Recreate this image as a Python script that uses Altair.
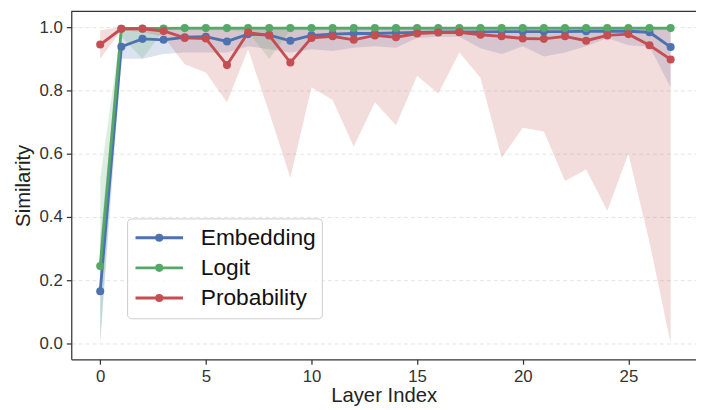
import altair as alt
import pandas as pd

layers = list(range(28))
series_names = ["Embedding", "Logit", "Probability"]
series_colors = ["#4C72B0", "#55A868", "#C44E52"]

emb_mean = [0.165, 0.938, 0.963, 0.960, 0.968, 0.970, 0.955, 0.978, 0.975, 0.957,
            0.974, 0.978, 0.980, 0.980, 0.982, 0.983, 0.985, 0.985, 0.985, 0.986,
            0.986, 0.986, 0.986, 0.987, 0.987, 0.987, 0.984, 0.937]
emb_lo = [0.00, 0.90, 0.90, 0.915, 0.92, 0.92, 0.92, 0.94, 0.93, 0.92,
          0.93, 0.925, 0.935, 0.94, 0.935, 0.966, 0.97, 0.97, 0.933, 0.915,
          0.94, 0.907, 0.92, 0.94, 0.966, 0.943, 0.938, 0.81]
emb_hi = [0.33] + [0.995] * 27

logit_mean = [0.245, 0.995, 0.996, 0.996, 0.997, 0.997, 0.997, 0.997, 0.997, 0.997,
              0.997, 0.997, 0.997, 0.997, 0.997, 0.997, 0.997, 0.997, 0.997, 0.997,
              0.997, 0.997, 0.997, 0.997, 0.997, 0.997, 0.997, 0.997]
logit_lo = [0.01, 0.97, 0.90, 0.99, 0.99, 0.99, 0.99, 0.985, 0.90, 0.99,
            0.99, 0.99, 0.99, 0.99, 0.99, 0.99, 0.99, 0.99, 0.99, 0.99,
            0.99, 0.99, 0.99, 0.99, 0.99, 0.99, 0.99, 0.99]
logit_hi = [0.52] + [1.0] * 27

prob_mean = [0.945, 0.995, 0.995, 0.988, 0.966, 0.964, 0.880, 0.983, 0.974, 0.888,
             0.966, 0.971, 0.960, 0.974, 0.968, 0.980, 0.983, 0.984, 0.976, 0.971,
             0.964, 0.963, 0.971, 0.957, 0.974, 0.978, 0.943, 0.898]
prob_lo = [0.90, 0.99, 0.985, 0.97, 0.883, 0.857, 0.763, 0.93, 0.73, 0.524,
           0.81, 0.77, 0.623, 0.763, 0.69, 0.846, 0.79, 0.92, 0.84, 0.587,
           0.682, 0.67, 0.514, 0.55, 0.42, 0.60, 0.32, 0.0]
prob_hi = [0.99] + [1.0] * 27

x_ticks = [0, 5, 10, 15, 20, 25]
y_ticks = [0.0, 0.2, 0.4, 0.6, 0.8, 1.0]

rows = []
for name, m, lo, hi in [
    ("Embedding", emb_mean, emb_lo, emb_hi),
    ("Logit", logit_mean, logit_lo, logit_hi),
    ("Probability", prob_mean, prob_lo, prob_hi),
]:
    for i, l in enumerate(layers):
        rows.append({"layer": l, "series": name, "mean": m[i], "lo": lo[i], "hi": hi[i]})
df = pd.DataFrame(rows)
legend_df = pd.DataFrame({"series": series_names})

W, H = 632, 352
FONT = "Liberation Sans"
AX = "#333333"
LW = 2.9
PS = 66

def cscale():
    return alt.Scale(domain=series_names, range=series_colors)

x_enc = alt.X(
    "layer:Q",
    scale=alt.Scale(domain=[-1.37, 28.2], nice=False, zero=False),
    axis=alt.Axis(values=x_ticks, title="Layer Index", grid=False, tickSize=5,
                  tickColor=AX, tickWidth=1.25, domainColor=AX, domainWidth=1.25,
                  labelFontSize=17, titleFontSize=20.5, labelColor=AX,
                  titleColor="#222222", labelPadding=4, titlePadding=2,
                  labelFont=FONT, titleFont=FONT, titleFontWeight="normal"),
)
y_axis = alt.Axis(values=y_ticks, format=".1f", title="Similarity", grid=True,
                  gridDash=[4, 3], gridColor="#dddddd", gridWidth=0.8, tickSize=5,
                  tickColor=AX, tickWidth=1.25, domainColor=AX, domainWidth=1.25,
                  labelFontSize=17, titleFontSize=20.5, labelColor=AX,
                  titleColor="#222222", labelPadding=4, titlePadding=6,
                  labelFont=FONT, titleFont=FONT, titleFontWeight="normal")
y_scale = alt.Scale(domain=[-0.05, 1.05], nice=False, zero=False)

base = alt.Chart(df)

band = base.mark_area(opacity=0.2).encode(
    x=x_enc,
    y=alt.Y("lo:Q", scale=y_scale, axis=y_axis),
    y2="hi:Q",
    color=alt.Color("series:N", scale=cscale(), legend=None),
)

line = base.mark_line(strokeWidth=LW).encode(
    x=x_enc,
    y=alt.Y("mean:Q", scale=y_scale, axis=y_axis),
    color=alt.Color("series:N", scale=cscale(), legend=None),
)

pts = base.mark_circle(size=PS, opacity=1).encode(
    x=x_enc,
    y=alt.Y("mean:Q", scale=y_scale, axis=y_axis),
    color=alt.Color("series:N", scale=cscale(), legend=None),
)

top_spine = alt.Chart(pd.DataFrame({"k": [0]})).mark_rule(
    color=AX, strokeWidth=1.25
).encode(x=alt.value(0), x2=alt.value(W), y=alt.value(0))

main = alt.layer(band, line, pts, top_spine)

# legend (drawn with marks)
ly = alt.Y("series:N", scale=alt.Scale(type="point", domain=series_names,
                                       range=[229, 290], padding=0), axis=None)
leg_base = alt.Chart(legend_df)
leg_bg = alt.Chart(pd.DataFrame({"k": [0]})).mark_rect(
    fill="#ffffff", fillOpacity=0.8, stroke="#cccccc", strokeWidth=1, cornerRadius=4
).encode(x=alt.value(57), x2=alt.value(254), y=alt.value(210), y2=alt.value(311))
leg_line = leg_base.mark_rule(strokeWidth=LW).encode(
    x=alt.value(65), x2=alt.value(113), y=ly,
    color=alt.Color("series:N", scale=cscale(), legend=None),
)
leg_dot = leg_base.mark_circle(size=PS, opacity=1).encode(
    x=alt.value(89), y=ly,
    color=alt.Color("series:N", scale=cscale(), legend=None),
)
leg_text = leg_base.mark_text(align="left", baseline="middle", fontSize=23,
                              font=FONT, color="#111111").encode(
    x=alt.value(131), y=ly, text="series:N",
)
legend = alt.layer(leg_bg, leg_line, leg_dot, leg_text)

chart = alt.layer(main, legend).resolve_scale(y="independent").properties(
    width=W, height=H,
    autosize=alt.AutoSizeParams(type="none"),
    padding={"left": 64, "top": 1, "right": 0, "bottom": 57},
).configure_view(strokeWidth=0)

chart.save("out.html", embed_options={"renderer": "svg", "actions": False})
